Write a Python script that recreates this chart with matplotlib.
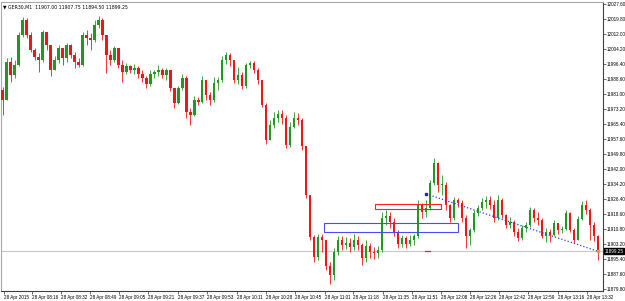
import numpy as np
import matplotlib.pyplot as plt
from matplotlib.patches import Rectangle

###############################################################################
# data (GER30, M1 candles)
symbol = 'GER30,M1'
first_open = 11983.0

closes = [11977.7, 11997.4, 11990.7, 11995.9, 12011.4, 12019.2, 12011.4, 12003.7, 12000.0, 11998.5,
          12013.0, 12006.3, 11993.3, 11998.5, 12004.7, 11999.5, 12006.3, 12001.1, 11997.4, 11995.9,
          12011.4, 12009.9, 12008.9, 12016.6, 12019.2, 12011.4, 12001.1, 11998.5, 12004.7, 11995.9,
          11992.3, 11995.4, 11993.3, 11994.3, 11991.2, 11989.1, 11986.0, 11991.2, 11992.3, 11993.3,
          11990.7, 11993.3, 11984.0, 11976.2, 11984.0, 11989.1, 11971.5, 11970.0, 11977.7, 11976.7,
          11988.1, 11980.3, 11977.7, 11986.5, 11988.1, 11998.5, 12001.1, 11998.5, 11988.1, 11990.7,
          11985.0, 11995.9, 11996.9, 11993.3, 11988.1, 11975.1, 11957.0, 11964.8, 11968.4, 11970.5,
          11968.4, 11954.4, 11963.7, 11968.4, 11967.4, 11953.9, 11928.5, 11906.7, 11896.3, 11906.7,
          11905.1, 11891.6, 11887.0, 11898.9, 11905.1, 11902.5, 11903.6, 11901.5, 11905.1, 11902.5,
          11895.8, 11902.0, 11898.9, 11898.4, 11899.9, 11916.5, 11917.6, 11914.5, 11909.3, 11903.0,
          11906.1, 11903.0, 11905.1, 11907.2, 11923.3, 11919.6, 11921.7, 11934.7, 11945.1, 11933.6,
          11933.6, 11923.3, 11916.5, 11925.9, 11924.3, 11916.5, 11907.2, 11910.3, 11919.1, 11921.7,
          11924.8, 11925.9, 11923.3, 11916.5, 11925.9, 11918.1, 11912.9, 11914.5, 11909.3, 11906.1,
          11911.3, 11912.9, 11920.7, 11916.5, 11915.5, 11907.2, 11909.3, 11907.7, 11913.9, 11910.3,
          11910.8, 11919.1, 11910.3, 11905.1, 11916.0, 11923.3, 11920.7, 11912.9, 11907.0, 11899.25]

highs = [11984.5, 11999.5, 12000.0, 11998.5, 12013.0, 12020.8, 12020.3, 12013.0, 12004.7, 12002.1,
         12014.0, 12009.9, 12006.3, 12000.6, 12006.3, 12004.7, 12007.3, 12006.8, 12002.6, 11999.5,
         12013.0, 12014.0, 12012.5, 12019.2, 12021.3, 12020.3, 12011.4, 12003.7, 12005.7, 12004.7,
         11998.5, 11996.9, 11995.9, 11996.4, 11995.4, 11993.3, 11990.2, 11993.3, 11993.3, 11995.9,
         11994.3, 11994.3, 11993.3, 11984.0, 11985.0, 11991.2, 11990.2, 11973.6, 11979.8, 11979.3,
         11990.2, 11987.1, 11981.9, 11989.7, 11989.7, 12000.6, 12002.6, 12002.1, 11998.5, 11994.8,
         11992.3, 11996.9, 11998.0, 11998.0, 11994.3, 11988.1, 11976.2, 11967.4, 11971.5, 11972.5,
         11972.5, 11970.0, 11966.3, 11971.5, 11971.0, 11968.4, 11953.9, 11928.5, 11907.7, 11908.2,
         11908.2, 11905.1, 11893.7, 11901.0, 11907.2, 11907.2, 11906.7, 11906.1, 11908.2, 11907.2,
         11903.6, 11905.1, 11903.6, 11901.5, 11902.0, 11919.6, 11920.7, 11919.6, 11916.5, 11910.3,
         11907.7, 11907.2, 11907.7, 11908.2, 11925.9, 11924.3, 11925.9, 11936.2, 11947.6, 11945.5,
         11938.8, 11935.2, 11923.8, 11927.4, 11926.9, 11925.9, 11918.1, 11911.3, 11920.7, 11923.3,
         11926.9, 11927.9, 11927.9, 11925.9, 11928.5, 11926.9, 11918.6, 11917.0, 11915.5, 11911.3,
         11912.9, 11914.5, 11922.2, 11921.7, 11919.6, 11916.5, 11911.3, 11910.8, 11915.5, 11912.9,
         11912.4, 11920.7, 11919.6, 11911.3, 11917.6, 11925.3, 11925.9, 11921.7, 11914.5, 11907.75]

lows = [11970.0, 11977.7, 11987.1, 11989.1, 11995.4, 12010.5, 12009.9, 12002.6, 11998.5, 11992.3,
        11997.4, 12003.7, 11990.2, 11993.3, 11996.9, 11995.9, 11997.4, 11999.5, 11994.3, 11994.8,
        11995.4, 12006.3, 12003.7, 12007.8, 12015.1, 12008.9, 11991.7, 11995.9, 11997.4, 11994.3,
        11987.1, 11991.2, 11991.7, 11991.2, 11989.1, 11987.1, 11984.0, 11985.0, 11989.1, 11990.2,
        11989.1, 11988.1, 11982.4, 11973.6, 11975.7, 11982.9, 11968.4, 11964.8, 11969.5, 11975.1,
        11976.2, 11977.7, 11975.1, 11976.7, 11982.9, 11987.1, 11996.4, 11995.4, 11986.5, 11986.0,
        11983.4, 11984.0, 11994.3, 11991.7, 11986.0, 11974.1, 11954.9, 11957.0, 11963.2, 11966.3,
        11965.3, 11952.8, 11953.5, 11963.2, 11964.8, 11951.8, 11926.9, 11905.1, 11893.7, 11894.7,
        11898.9, 11889.6, 11882.3, 11884.4, 11897.3, 11899.9, 11900.4, 11898.9, 11899.9, 11899.9,
        11892.2, 11893.7, 11895.8, 11895.3, 11895.8, 11898.9, 11912.9, 11911.3, 11907.2, 11901.0,
        11901.5, 11901.0, 11902.0, 11902.5, 11906.1, 11916.5, 11917.0, 11920.7, 11933.6, 11930.0,
        11928.5, 11920.7, 11914.5, 11915.5, 11922.2, 11914.5, 11901.0, 11902.5, 11909.3, 11917.6,
        11920.7, 11921.7, 11921.2, 11914.5, 11915.5, 11916.5, 11911.3, 11911.3, 11907.2, 11904.6,
        11905.1, 11909.3, 11911.9, 11914.5, 11912.9, 11906.1, 11904.1, 11904.1, 11907.2, 11908.2,
        11908.7, 11910.3, 11909.3, 11903.6, 11905.1, 11915.5, 11918.6, 11905.1, 11904.6, 11894.5]

time_labels = ['28 Apr 2015', '28 Apr 08:16', '28 Apr 08:32', '28 Apr 08:49', '28 Apr 09:05',
               '28 Apr 09:21', '28 Apr 09:37', '28 Apr 09:53', '28 Apr 10:11', '28 Apr 10:28',
               '28 Apr 10:45', '28 Apr 11:01', '28 Apr 11:18', '28 Apr 11:35', '28 Apr 11:51',
               '28 Apr 12:08', '28 Apr 12:26', '28 Apr 12:42', '28 Apr 12:59', '28 Apr 13:16',
               '28 Apr 13:32']
time_label_bars = [0.25, 7.25, 14.5, 21.75, 29.25, 36.5, 44, 51.25, 58.75, 66, 73.25,
                   80.75, 87.75, 95.25, 102.5, 109.75, 117, 124.25, 131.5, 139, 146.25]

price_ticks = [12027.60, 12019.80, 12012.00, 12004.20, 11996.40, 11988.60, 11981.00,
               11973.20, 11965.40, 11957.60, 11949.80, 11942.00, 11934.20, 11926.40,
               11918.60, 11910.80, 11903.20, 11895.40, 11887.60, 11879.80]

# drawn objects on the chart
red_zone = [11921.2, 11923.8]
blue_zone = [11909.3, 11914.0]
trend_start = 11929.0

###############################################################################
opens = [first_open] + closes[:-1]
n = len(closes)
x = np.arange(n)
up_col = '#1f9a1f'
dn_col = '#f51414'
fs = 3.3
plt.rcParams['font.family'] = ['Liberation Sans', 'DejaVu Sans']

fig = plt.figure(figsize=(6.25, 3.01), dpi=100)
ax = fig.add_axes([1 / 625, 1 - 291 / 301, 602 / 625, 289 / 301])

last = closes[-1]
ax.axhline(last, color='#c8c8c8', lw=0.8, zorder=1)

for i in range(n):
    c = up_col if closes[i] >= opens[i] else dn_col
    ax.vlines(x[i], lows[i], highs[i], color=c, lw=0.6, zorder=3)
    lo = min(opens[i], closes[i])
    h = max(abs(closes[i] - opens[i]), 0.4)
    ax.bar(x[i], h, bottom=lo, width=0.55, color=c, lw=0, zorder=3)

# zones and trend line
ax.add_patch(Rectangle((93.25, red_zone[0]), 16.5, red_zone[1] - red_zone[0],
                       fill=False, ec='#ff2020', lw=0.8, zorder=4))
ax.add_patch(Rectangle((80.5, blue_zone[0]), 33.5, blue_zone[1] - blue_zone[0],
                       fill=False, ec='#4a4aff', lw=0.8, zorder=4))
ax.plot([106, n - 1], [trend_start, last], color='#3030ff', ls=':', lw=0.9, zorder=5)
ax.plot([106], [trend_start], 's', color='#2020ff', ms=1.6, zorder=5)
ax.plot([105.8, 107], [last, last], color='#ff2020', lw=0.9, zorder=2)
ax.plot([n - 1], [last], 's', color='#f0a020', ms=1.6, zorder=6)

ax.set_xlim(-0.4, 150.25)
ax.set_ylim(11878.66, 12028.56)

ax.yaxis.tick_right()
ax.set_yticks(price_ticks)
ax.set_yticklabels(['%.2f' % p for p in price_ticks])
ax.tick_params(axis='y', length=2, width=0.5, labelsize=fs, pad=1, color='#303030')
ax.set_xticks(time_label_bars)
ax.set_xticklabels(time_labels, ha='left')
ax.tick_params(axis='x', length=2, width=0.5, labelsize=fs, pad=1, color='#303030')

for s in ['top', 'left']:
    ax.spines[s].set_color('#a8a8a8')
    ax.spines[s].set_linewidth(0.8)
for s in ['bottom', 'right']:
    ax.spines[s].set_color('#404040')
    ax.spines[s].set_linewidth(0.8)

ax.text(1.003, last, '%.2f' % last, transform=ax.get_yaxis_transform(), fontsize=fs,
        color='white', va='center', ha='left', clip_on=False,
        bbox=dict(boxstyle='square,pad=0.15', fc='black', ec='black'))
ax.text(0.004, 0.99, '\u25bc %s  %.2f %.2f %.2f %.2f' % (symbol, opens[-1], highs[-1], lows[-1], last),
        transform=ax.transAxes, fontsize=fs, va='top', ha='left', family=['DejaVu Sans'])

fig.savefig('out.png', dpi=100)
